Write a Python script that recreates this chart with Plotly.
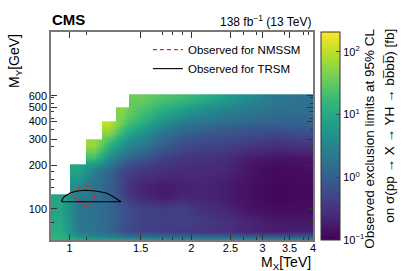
import numpy as np
import plotly.graph_objects as go

nan = float("nan")

# Bin edges of the limit map
mx_edges = [0.9, 1.0, 1.1, 1.2, 1.3, 1.4, 1.6, 1.8, 2.0, 2.3, 2.6, 3.0, 3.5, 4.0]  # TeV
my_edges = [60, 64, 75, 90, 110, 128, 160, 206, 250, 306, 360, 410, 460, 511, 560, 615]  # GeV

# Observed limits [fb], rows = M_Y bins (bottom->top), cols = M_X bins
limits = [
    [14.3, 8.4, 7.2, 6.2, 5.3, 4.6, 4.2, 3.9, 3.6, 3.6, 3.4, 3.1, 3.1],
    [11.4, 2.5, 1.8, 1.24, 0.68, 0.46, 0.40, 0.37, 0.34, 0.29, 0.22, 0.18, 0.20],
    [9.8, 2.1, 1.7, 1.24, 0.73, 0.46, 0.43, 0.46, 0.37, 0.29, 0.22, 0.17, 0.17],
    [8.4, 2.1, 1.7, 1.24, 0.79, 0.46, 0.40, 0.46, 0.29, 0.22, 0.15, 0.13, 0.13],
    [8.4, 2.1, 1.7, 1.15, 0.54, 0.25, 0.18, 0.22, 0.22, 0.18, 0.14, 0.11, 0.12],
    [nan, 3.9, 1.8, 0.99, 0.46, 0.22, 0.17, 0.20, 0.22, 0.18, 0.14, 0.11, 0.12],
    [nan, 8.4, 2.5, 1.15, 0.54, 0.34, 0.27, 0.25, 0.25, 0.22, 0.15, 0.12, 0.13],
    [nan, nan, 21, 4.6, 1.8, 0.85, 0.46, 0.34, 0.31, 0.27, 0.18, 0.15, 0.16],
    [nan, nan, 66, 14.3, 5.3, 2.5, 0.99, 0.63, 0.50, 0.46, 0.37, 0.29, 0.34],
    [nan, nan, nan, 52, 14.3, 5.3, 1.8, 1.15, 0.85, 0.73, 0.63, 0.54, 0.63],
    [nan, nan, nan, 97, 31, 11.4, 3.9, 2.1, 1.56, 1.24, 1.07, 0.99, 1.07],
    [nan, nan, nan, nan, 45, 18, 7.8, 4.6, 2.9, 2.1, 1.7, 1.34, 1.34],
    [nan, nan, nan, nan, 52, 24, 12.3, 7.2, 4.6, 3.1, 2.3, 1.7, 1.56],
    [nan, nan, nan, nan, nan, 31, 18, 12.3, 7.8, 4.9, 3.1, 2.0, 1.7],
    [nan, nan, nan, nan, nan, 36, 24, 19, 12.3, 6.7, 3.9, 2.1, 1.7],
]

# Exclusion contours
nmssm_mx = [1.101, 1.140, 1.156, 1.133, 1.101, 1.065, 1.029, 1.011, 1.035, 1.065, 1.101]
nmssm_my = [145.7, 135.6, 122.4, 111.2, 103.2, 111.2, 120.4, 128.3, 134.6, 140.0, 145.7]
trsm_mx = [0.955, 0.961, 0.972, 1.006, 1.046, 1.095, 1.159, 1.227, 1.263, 1.299, 1.341, 0.955]
trsm_my = [111.7, 116.7, 121.4, 128.9, 132.4, 134.0, 132.4, 128.9, 124.3, 118.5, 111.7, 111.7]

x_ticks = [1, 1.5, 2, 2.5, 3, 3.5, 4]
x_ticklabels = ["1", "1.5", "2", "2.5", "3", "3.5", "4"]
x_minor = [1.1, 1.7, 1.8, 1.9, 2.7, 2.9, 3.4, 3.8, 3.9]
y_ticks = [100, 200, 300, 400, 500, 600]
y_ticklabels = ["100", "200", "300", "400", "500", "600"]
y_minor = [80, 140, 160, 180, 270, 350, 420, 470, 530, 580]
cb_ticks = [-1, 0, 1, 2]
cb_ticklabels = ["10<sup>−1</sup>", "10<sup>0</sup>", "10<sup>1</sup>", "10<sup>2</sup>"]

FONT = "Liberation Sans, Arial, Helvetica, sans-serif"

z = np.log10(np.array(limits, dtype=float))

fig = go.Figure()
fig.add_trace(go.Heatmap(
    x=mx_edges, y=my_edges, z=z,
    colorscale="Viridis", zmin=-1, zmax=np.log10(207),
    zsmooth="best", connectgaps=False, showscale=True,
    colorbar=dict(
        x=1.0305, xanchor="left", xref="paper", y=0.5, yanchor="middle", len=1, lenmode="fraction",
        thickness=19, thicknessmode="pixels",
        tickvals=cb_ticks, ticktext=cb_ticklabels, ticks="inside", ticklen=4,
        tickfont=dict(size=11, family=FONT, color="black"),
        outlinewidth=1, outlinecolor="#333", xpad=0, ypad=0,
    ),
    hoverinfo="skip",
))
fig.add_trace(go.Scatter(
    x=nmssm_mx, y=nmssm_my, mode="lines", name="Observed for NMSSM",
    line=dict(color="#ee2222", width=1.3, dash="4px,3px"),
))
fig.add_trace(go.Scatter(
    x=trsm_mx, y=trsm_my, mode="lines", name="Observed for TRSM",
    line=dict(color="black", width=1.1),
))

axis_common = dict(
    showgrid=False, zeroline=False, ticks="inside", ticklen=6, tickwidth=1, tickcolor="#333",
    showline=True, linecolor="#777", linewidth=1.5, mirror="ticks",
    tickfont=dict(size=11, family=FONT, color="black"),
)
fig.update_xaxes(
    type="log", range=[np.log10(0.9), np.log10(4.0)],
    tickvals=x_ticks, ticktext=x_ticklabels, ticklabelstandoff=-3,
    minor=dict(tickvals=x_minor, ticks="inside", ticklen=3, tickcolor="#333"),
    **axis_common,
)
fig.update_yaxes(
    type="log", range=[np.log10(60.8), np.log10(1654)],
    tickvals=y_ticks, ticktext=y_ticklabels,
    minor=dict(tickvals=y_minor, ticks="inside", ticklen=3, tickcolor="#333"),
    **axis_common,
)

annotations = [
    dict(text="<b>CMS</b>", x=0, y=1.0, xref="paper", yref="paper", xanchor="left", yanchor="bottom",
         xshift=-1, yshift=2, showarrow=False, font=dict(size=15, family=FONT, color="black")),
    dict(text="138 fb<sup>−1</sup> (13 TeV)", x=1, y=1.0, xref="paper", yref="paper", xanchor="right",
         yanchor="bottom", yshift=1, showarrow=False, font=dict(size=12, family=FONT, color="black")),
    dict(text="M<sub>X</sub>[TeV]", x=1, y=0, xref="paper", yref="paper", xanchor="right", yanchor="top",
         yshift=-12, showarrow=False, font=dict(size=14, family=FONT, color="black")),
    dict(text="M<sub>Y</sub>[GeV]", x=0, y=1, xref="paper", yref="paper", xanchor="right", yanchor="top",
         xshift=-25, textangle=-90, showarrow=False, font=dict(size=14, family=FONT, color="black")),
    dict(text="Observed exclusion limits at 95% CL", x=1, y=1.025, xref="paper", yref="paper",
         xanchor="center", yanchor="top", xshift=57, textangle=-90, showarrow=False,
         font=dict(size=13.5, family=FONT, color="black")),
    dict(text="on σ(pp → X → YH → bb̅bb̅) [fb]", x=1, y=1.025, xref="paper", yref="paper",
         xanchor="center", yanchor="top", xshift=77, textangle=-90, showarrow=False,
         font=dict(size=13.5, family=FONT, color="black")),
]

fig.update_layout(
    width=407, height=271,
    margin=dict(l=51, r=94, t=32, b=31),
    paper_bgcolor="white", plot_bgcolor="white",
    font=dict(family=FONT, color="black"),
    showlegend=True,
    legend=dict(x=0.37, y=0.985, xanchor="left", yanchor="top", bgcolor="rgba(255,255,255,0)",
                font=dict(size=11.5, family=FONT, color="black"), itemwidth=30),
    annotations=annotations,
)

fig.write_html("out.html", config={"displayModeBar": False},
               post_script="document.body.style.margin='0';document.body.style.overflow='hidden';")
